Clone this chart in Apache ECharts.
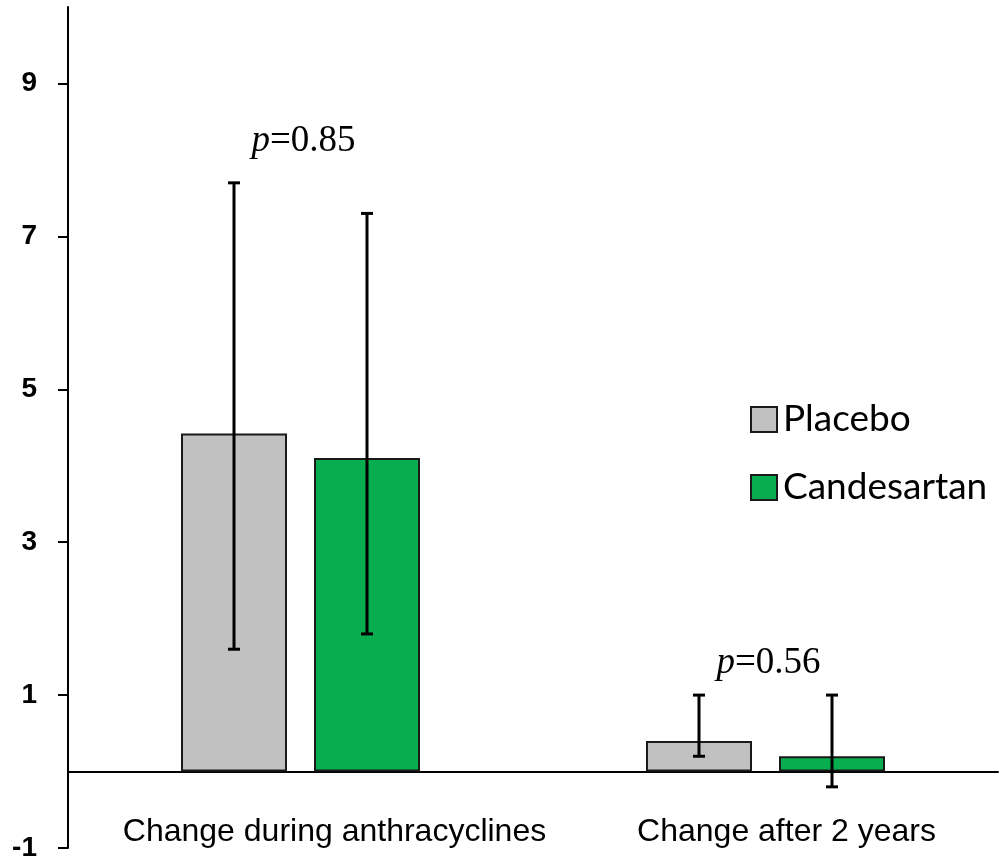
<!DOCTYPE html>
<html><head><meta charset="utf-8">
<script src="https://cdn.jsdelivr.net/npm/echarts@6/dist/echarts.min.js"></script>
<style>html,body{margin:0;padding:0;background:#fff}#c{width:1000px;height:860px}</style>
</head><body><div id="c"></div>
<script>
const categories = ['Change during anthracyclines', 'Change after 2 years'];
const seriesNames = ['Placebo', 'Candesartan'];
const placeboMean = [4.42, 0.4];
const placeboLow = [1.6, 0.2];
const placeboHigh = [7.7, 1.0];
const candesartanMean = [4.1, 0.2];
const candesartanLow = [1.8, -0.2];
const candesartanHigh = [7.3, 1.0];
const pValues = ['0.85', '0.56'];
const pLabelY = [8.25, 1.42];
const yTicks = [-1, 1, 3, 5, 7, 9];

const BAR_W = 106, GAP = 27;
const OFF = (BAR_W + GAP) / 2;

function errRender(offset) {
  return function (params, api) {
    const x = api.value(0);
    const lo = api.coord([x, api.value(1)]);
    const hi = api.coord([x, api.value(2)]);
    const cx = lo[0] + offset;
    const cap = 6;
    const st = { stroke: '#000', lineWidth: 3 };
    return { type: 'group', children: [
      { type: 'line', shape: { x1: cx, y1: hi[1], x2: cx, y2: lo[1] }, style: st },
      { type: 'line', shape: { x1: cx - cap, y1: hi[1], x2: cx + cap, y2: hi[1] }, style: st },
      { type: 'line', shape: { x1: cx - cap, y1: lo[1], x2: cx + cap, y2: lo[1] }, style: st }
    ]};
  };
}

const chart = echarts.init(document.getElementById('c'), null, { renderer: 'canvas' });
chart.setOption({
  animation: false,
  backgroundColor: '#fff',
  grid: { left: 68, right: 2, top: 7, bottom: 12, containLabel: false, outerBoundsMode: 'none' },
  legend: {
    data: seriesNames,
    orient: 'vertical',
    left: 745, top: 396,
    icon: 'rect',
    itemWidth: 26, itemHeight: 25, itemGap: 31,
    textStyle: { fontFamily: 'Lato', fontSize: 37, color: '#000', padding: [0, 0, 0, 1] }
  },
  xAxis: {
    type: 'category',
    data: categories,
    axisLine: { onZero: true, lineStyle: { color: '#000', width: 2 } },
    axisTick: { show: false },
    axisLabel: {
      margin: -32,
      formatter: function (v, i) { return '{c' + i + '|' + v + '}'; },
      rich: {
        c0: { fontFamily: 'Liberation Sans', fontSize: 32, color: '#000', padding: [0, 0, 0, 68] },
        c1: { fontFamily: 'Liberation Sans', fontSize: 32, color: '#000', padding: [0, 0, 0, 42] }
      }
    },
    splitLine: { show: false }
  },
  yAxis: {
    type: 'value',
    min: -1, max: 10,
    axisLine: { show: true, onZero: false, lineStyle: { color: '#000', width: 2 } },
    axisTick: { show: true, inside: false, length: 10, customValues: yTicks, lineStyle: { color: '#000', width: 2 } },
    axisLabel: { customValues: yTicks, margin: 31, fontFamily: 'Liberation Sans', fontWeight: 'bold', fontSize: 28, color: '#000' },
    splitLine: { show: false }
  },
  series: [
    { name: 'Placebo', type: 'bar', data: placeboMean, barWidth: BAR_W, barGap: (GAP / BAR_W * 100) + '%',
      itemStyle: { color: '#C1C1C1', borderColor: '#1a1a1a', borderWidth: 2 } },
    { name: 'Candesartan', type: 'bar', data: candesartanMean, barWidth: BAR_W,
      itemStyle: { color: '#08AD4F', borderColor: '#1a1a1a', borderWidth: 2 } },
    { name: 'err-placebo', type: 'custom', z: 5, renderItem: errRender(-OFF),
      data: categories.map((c, i) => [i, placeboLow[i], placeboHigh[i]]) },
    { name: 'err-candesartan', type: 'custom', z: 5, renderItem: errRender(OFF),
      data: categories.map((c, i) => [i, candesartanLow[i], candesartanHigh[i]]) },
    { name: 'pvalues', type: 'custom', z: 5,
      renderItem: function (params, api) {
        const p = api.coord([api.value(0), api.value(1)]);
        return { type: 'text', x: p[0] + 3, y: p[1], style: {
          text: '{i|p}{n|=' + pValues[params.dataIndex] + '}',
          align: 'center', verticalAlign: 'middle',
          rich: {
            i: { fontFamily: 'Liberation Serif', fontStyle: 'italic', fontSize: 37, fill: '#000' },
            n: { fontFamily: 'Liberation Serif', fontSize: 37, fill: '#000' }
          }
        }};
      },
      data: categories.map((c, i) => [i, pLabelY[i]]) }
  ]
});
</script></body></html>
